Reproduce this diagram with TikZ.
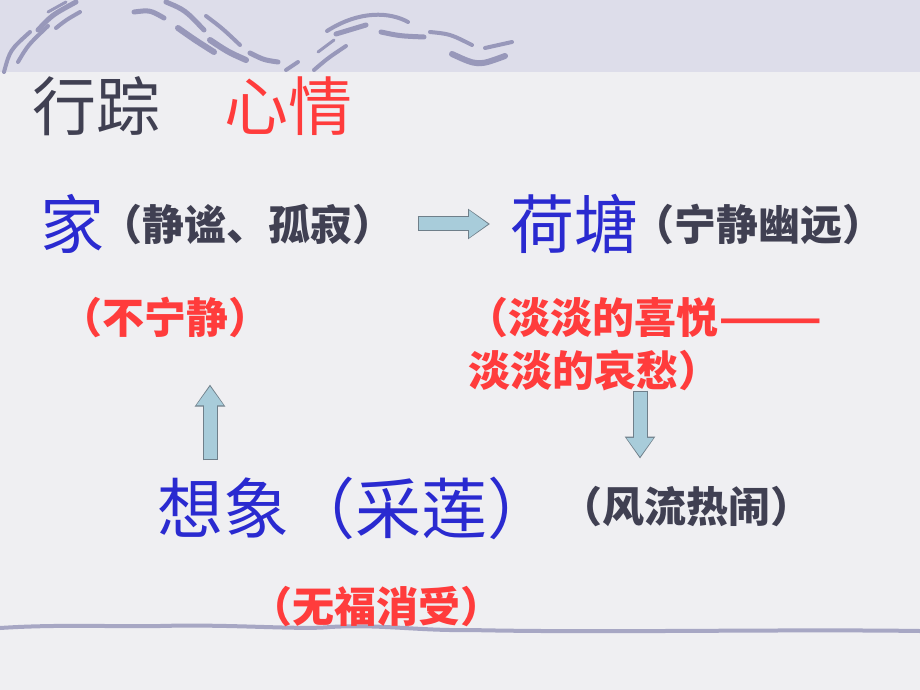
\documentclass[tikz,border=0pt]{standalone}
\usepackage{fontspec}
\newfontfamily\cjk{Noto Sans CJK SC}
\usetikzlibrary{positioning,arrows.meta}

\definecolor{paper}{HTML}{EFEFF2}
\definecolor{band}{HTML}{DDDDEA}
\definecolor{wave}{HTML}{9898BA}
\definecolor{inkgrey}{HTML}{404052}
\definecolor{inkred}{HTML}{FF3C3C}
\definecolor{inkblue}{HTML}{2A2AD0}
\definecolor{arrowbody}{HTML}{A8CCDA}
\definecolor{arrowrim}{HTML}{6F7F8A}

\begin{document}
\begin{tikzpicture}[x=1pt,y=-1pt,
    word/.style={inner sep=0pt, anchor=base west, font=\cjk\fontsize{64}{64}\selectfont},
    note/.style={inner sep=0pt, anchor=base west, font=\cjk\bfseries\fontsize{42}{42}\selectfont},
    brush/.style={draw=wave, line width=5pt, line cap=round},
    rimarrow/.style={draw=arrowrim, line width=15pt, -{Triangle[length=22pt,width=29pt]}},
    bodyarrow/.style={draw=arrowbody, line width=13pt, -{Triangle[length=19pt,width=26pt]}},]
    % paper
    \fill[paper] (0,0) rectangle (920,690);
    \useasboundingbox (0,0) rectangle (920,690);
    \fill[band] (0,0) rectangle (920,72);
    % brush strokes on top
    \draw[brush, line width=4pt] (4,72) .. controls (10,50) .. (30,32);
    \draw[brush, line width=4pt] (18,62) .. controls (28,45) .. (48,26);
    \draw[brush, line width=5pt] (38,30) .. controls (52,15) .. (76,2);
    \draw[brush, line width=3pt] (48,12) -- (66,2);
    \draw[brush, line width=4pt] (56,28) .. controls (66,20) .. (80,12);
    \draw[brush, line width=5pt] (134,12) .. controls (150,10) .. (164,18);
    \draw[brush, line width=5pt] (166,2) .. controls (185,10) .. (204,30);
    \draw[brush, line width=6pt] (178,28) .. controls (195,40) .. (214,52);
    \draw[brush, line width=4pt] (206,16) .. controls (222,28) .. (240,45);
    \draw[brush, line width=6pt] (210,40) .. controls (228,52) .. (246,60);
    \draw[brush, line width=5pt] (250,53) .. controls (264,60) .. (278,62);
    \draw[brush, line width=4pt] (286,70) -- (298,62);
    \draw[brush, line width=4pt] (314,70) .. controls (328,58) .. (346,46);
    \draw[brush, line width=3pt] (318,52) -- (334,40);
    \draw[brush, line width=4pt] (327,31) .. controls (360,10) and (390,12) .. (408,22);
    \draw[brush, line width=5pt] (336,34) -- (366,25);
    \draw[brush, line width=5pt] (381,32) .. controls (400,36) .. (424,37);
    \draw[brush, line width=4pt] (430,32) .. controls (450,34) .. (472,45);
    \draw[brush, line width=6pt] (452,54) .. controls (478,66) .. (505,56);
    \draw[brush, line width=4pt] (485,48) -- (512,42);
    % line at the bottom
    \draw[brush, line width=4pt, draw=wave!85] (0,628) .. controls (60,624) and (120,627) .. (160,626)
        .. controls (230,624) and (300,630) .. (330,627) .. controls (380,624) and (420,631) .. (470,630)
        .. controls (600,633) and (780,629) .. (920,631);
    % nodes
    \node[word, text=inkgrey]                 (xingzong)   at (32,131)                      {行踪};
    \node[word, text=inkred]                  (xinqing)    [base right=64pt of xingzong]    {心情};
    \node[word, text=inkblue]                 (jia)        at (40,248)                      {家};
    \node[note, text=inkgrey, yshift=8pt]     (jianote)    [base right=-4pt of jia]         {（静谧、孤寂）};
    \node[word, text=inkblue]                 (hetang)     at (510,248)                     {荷塘};
    \node[note, text=inkgrey, yshift=8pt]     (hetangnote) [base right=-6pt of hetang]      {（宁静幽远）};
    \node[note, text=inkred]                  (buning)     at (60,333)                      {（不宁静）};
    \node[note, text=inkred]                  (danxi)      at (466,333)                     {（淡淡的喜悦\scalebox{1.45}[1]{——}};
    \node[note, text=inkred]                  (danchou)    at (468,386)                     {淡淡的哀愁）};
    \node[word, text=inkblue,
          font=\cjk\fontsize{66}{66}\selectfont] (xiangxiang) at (157,533)                  {想象（采莲）};
    \node[note, text=inkgrey]                 (fengliu)    at (560,522)                     {（风流热闹）};
    \node[note, text=inkred]                  (wufu)       at (250,622)                     {（无福消受）};
    % lines
    \draw[rimarrow, shorten <=23pt, shorten >=20pt]
        (jianote.east) -- (jianote.east -| hetang.west);
    \draw[bodyarrow, shorten <=24pt, shorten >=21.8pt]
        (jianote.east) -- (jianote.east -| hetang.west);
    \draw[rimarrow, shorten <=16pt, shorten >=47pt]
        ([xshift=53pt]xiangxiang.north west) -- ([xshift=53pt]xiangxiang.north west |- buning.south);
    \draw[bodyarrow, shorten <=17pt, shorten >=48.8pt]
        ([xshift=53pt]xiangxiang.north west) -- ([xshift=53pt]xiangxiang.north west |- buning.south);
    \draw[rimarrow, shorten <=0pt, shorten >=27pt]
        ([xshift=172pt]danchou.south west) -- ([xshift=172pt]danchou.south west |- fengliu.north);
    \draw[bodyarrow, shorten <=1pt, shorten >=28.8pt]
        ([xshift=172pt]danchou.south west) -- ([xshift=172pt]danchou.south west |- fengliu.north);
\end{tikzpicture}
\end{document}
